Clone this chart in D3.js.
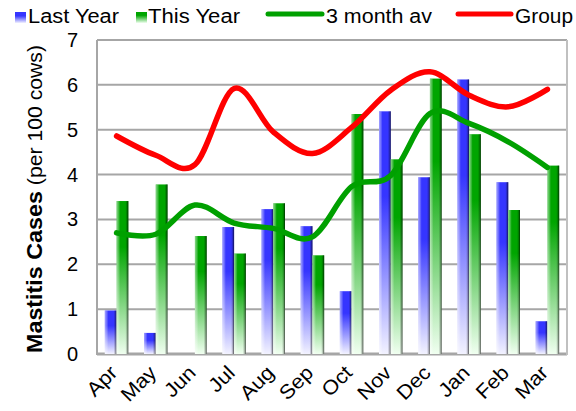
<!DOCTYPE html>
<html>
<head>
<meta charset="utf-8">
<script src="https://cdn.jsdelivr.net/npm/d3@7"></script>
<style>
  body { margin: 0; background: #fff; }
  text { font-family: Arial, "Liberation Sans", sans-serif; fill: #000; }
</style>
</head>
<body>
<svg id="chart" width="576" height="411"></svg>
<script>
const months = ['Apr', 'May', 'Jun', 'Jul', 'Aug', 'Sep', 'Oct', 'Nov', 'Dec', 'Jan', 'Feb', 'Mar']
const lastYear = [0.97, 0.47, 0, 2.83, 3.23, 2.85, 1.40, 5.41, 3.94, 6.12, 3.83, 0.73]
const thisYear = [3.41, 3.78, 2.63, 2.24, 3.36, 2.20, 5.35, 4.34, 6.14, 4.90, 3.21, 4.20]
const avg3 = [2.70, 2.67, 3.32, 2.92, 2.80, 2.61, 3.73, 3.98, 5.36, 5.14, 4.73, 4.16]
const group = [4.86, 4.43, 4.22, 5.92, 4.95, 4.47, 5.05, 5.88, 6.29, 5.77, 5.51, 5.90]
const yTicks = [0, 1, 2, 3, 4, 5, 6, 7]

const svg = d3.select('#chart')
const mLeft = 97, mRight = 567, mTop = 40, mBottom = 354

const x = d3.scaleBand().domain(months).range([mLeft, mRight])
const y = d3.scaleLinear().domain([0, 7]).range([mBottom, mTop])
const barW = x.bandwidth() * 0.3

// gradients
const defs = svg.append('defs')
function vGrad(id, c, stopMid, light) {
  const g = defs.append('linearGradient').attr('id', id)
    .attr('x1', 0).attr('y1', 0).attr('x2', 0).attr('y2', 1)
  g.append('stop').attr('offset', 0).attr('stop-color', c)
  g.append('stop').attr('offset', stopMid).attr('stop-color', c)
  g.append('stop').attr('offset', 1).attr('stop-color', light)
}
vGrad('gBlue', '#3535ff', 0.35, '#f2f2ff')
vGrad('gGreen', '#00a500', 0.3, '#f0fff0')
const bev = defs.append('linearGradient').attr('id', 'bevel')
  .attr('x1', 0).attr('y1', 0).attr('x2', 1).attr('y2', 0)
;[[0, '#fff', 0.55], [0.18, '#fff', 0.25], [0.3, '#fff', 0], [0.75, '#000', 0], [0.88, '#000', 0.25], [1, '#000', 0.7]]
  .forEach(s => bev.append('stop').attr('offset', s[0]).attr('stop-color', s[1]).attr('stop-opacity', s[2]))

// grid
svg.append('g').selectAll('line').data(yTicks).join('line')
  .attr('x1', mLeft).attr('x2', mRight)
  .attr('y1', d => y(d)).attr('y2', d => y(d))
  .attr('stroke', '#a6a6a6').attr('stroke-width', d => d === 0 ? 3 : 2)
svg.append('line').attr('x1', mLeft).attr('x2', mLeft).attr('y1', mTop).attr('y2', mBottom + 1)
  .attr('stroke', '#a6a6a6').attr('stroke-width', 2)
svg.append('line').attr('x1', mRight).attr('x2', mRight).attr('y1', mTop).attr('y2', mBottom + 1)
  .attr('stroke', '#c0c0c0').attr('stroke-width', 2)

// y labels
svg.append('g').selectAll('text').data(yTicks).join('text')
  .attr('x', 78).attr('y', d => y(d) + 7)
  .attr('text-anchor', 'end').attr('font-size', 20)
  .text(d => d)

// bars
const series = [
  { vals: lastYear, fill: 'url(#gBlue)', off: -barW },
  { vals: thisYear, fill: 'url(#gGreen)', off: 0 }
]
series.forEach(s => {
  const g = svg.append('g')
  const data = months.map((m, i) => ({ m, v: s.vals[i] })).filter(d => d.v > 0)
  const bx = d => x(d.m) + x.bandwidth() / 2 + s.off
  g.selectAll('rect.b').data(data).join('rect').attr('class', 'b')
    .attr('x', bx).attr('width', barW)
    .attr('y', d => y(d.v)).attr('height', d => y(0) - y(d.v))
    .attr('fill', s.fill)
  g.selectAll('rect.v').data(data).join('rect').attr('class', 'v')
    .attr('x', bx).attr('width', barW)
    .attr('y', d => y(d.v)).attr('height', d => y(0) - y(d.v))
    .attr('fill', 'url(#bevel)')
})

// lines
const line = d3.line()
  .x((d, i) => x(months[i]) + x.bandwidth() / 2)
  .y(d => y(d))
  .curve(d3.curveCardinal.tension(0))
svg.append('path').datum(avg3).attr('d', line)
  .attr('fill', 'none').attr('stroke', '#00a000').attr('stroke-width', 5.5).attr('stroke-linecap', 'round')
svg.append('path').datum(group).attr('d', line)
  .attr('fill', 'none').attr('stroke', '#ff0000').attr('stroke-width', 5.5).attr('stroke-linecap', 'round')

// x labels
svg.append('g').selectAll('text').data(months).join('text')
  .attr('transform', d => `translate(${x(d) + x.bandwidth() / 2 + 2},${mBottom + 20}) rotate(-45) scale(1.08,1)`)
  .attr('text-anchor', 'end').attr('font-size', 20)
  .text(d => d)

// y title
const t = svg.append('text')
  .attr('transform', 'translate(42,199) rotate(-90)')
  .attr('text-anchor', 'middle')
  .attr('textLength', 308).attr('lengthAdjust', 'spacingAndGlyphs')
t.append('tspan').attr('font-weight', 'bold').attr('font-size', 22).text('Mastitis Cases')
t.append('tspan').attr('font-size', 20).text(' (per 100 cows)')

// legend
const lg = svg.append('g')
function legText(xp, w, s) {
  lg.append('text').attr('x', xp).attr('y', 23).attr('font-size', 20)
    .attr('textLength', w).attr('lengthAdjust', 'spacingAndGlyphs').text(s)
}
lg.append('rect').attr('x', 15).attr('y', 12).attr('width', 11).attr('height', 11).attr('fill', 'url(#gBlue)')
legText(28, 91, 'Last Year')
lg.append('rect').attr('x', 136).attr('y', 12).attr('width', 11).attr('height', 11).attr('fill', 'url(#gGreen)')
legText(148, 92, 'This Year')
lg.append('line').attr('x1', 268).attr('x2', 322).attr('y1', 14).attr('y2', 14)
  .attr('stroke', '#00a000').attr('stroke-width', 5).attr('stroke-linecap', 'round')
legText(326, 106, '3 month av')
lg.append('line').attr('x1', 458).attr('x2', 511).attr('y1', 14).attr('y2', 14)
  .attr('stroke', '#ff0000').attr('stroke-width', 5).attr('stroke-linecap', 'round')
legText(515, 58, 'Group')
</script>
</body>
</html>
